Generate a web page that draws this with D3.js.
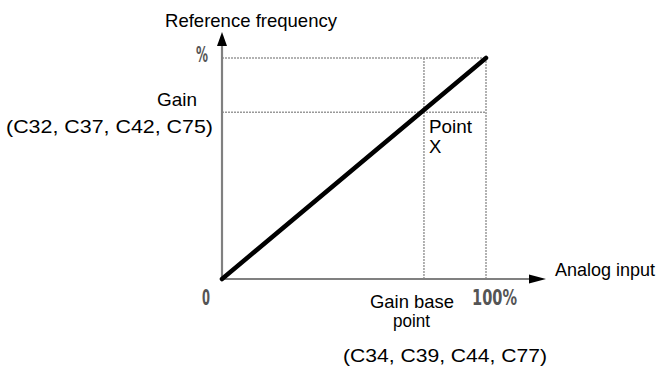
<!DOCTYPE html>
<html><head><meta charset="utf-8">
<script src="https://cdn.jsdelivr.net/npm/d3@7"></script>
<style>html,body{margin:0;padding:0;background:#fff;}</style>
</head><body>
<svg id="c" width="660" height="369"></svg>
<script>
// Data
const inputPct = [0, 100];        // analog input %
const freqPct = [0, 100];         // reference frequency %
const gainBasePoint = [76.5];     // x position of gain base point (%)
const gainLevel = [75.5];         // y position of gain (%)
const xTickLabels = ["0", "100%"];
const yTickLabels = ["%"];
const texts = {
  yTitle: "Reference frequency",
  xTitle: "Analog input",
  gain1: "Gain",
  gain2: "(C32, C37, C42, C75)",
  pointX1: "Point",
  pointX2: "X",
  base1: "Gain base",
  base2: "point",
  base3: "(C34, C39, C44, C77)"
};

const svg = d3.select("#c");
const x = d3.scaleLinear().domain([0, 100]).range([222, 486]);
const y = d3.scaleLinear().domain([0, 100]).range([279, 58]);
const font = "'Liberation Sans', Arial, sans-serif";
const nfont = "'Liberation Sans Narrow', 'DejaVu Sans Condensed', Arial, sans-serif";

// dotted guides
const guide = (x1, y1, x2, y2) => svg.append("line")
  .attr("x1", x1).attr("y1", y1).attr("x2", x2).attr("y2", y2)
  .attr("stroke", "#999").attr("stroke-width", 1.5).attr("stroke-dasharray", "2,1");
guide(x(0), y(100), x(100), y(100));
guide(x(100), y(100), x(100), y(0));
guide(x(0), y(gainLevel[0]), x(100), y(gainLevel[0]));
guide(x(gainBasePoint[0]), y(100), x(gainBasePoint[0]), y(0));

// axes
svg.append("line").attr("x1", x(0)).attr("y1", y(0)).attr("x2", x(0)).attr("y2", 44)
  .attr("stroke", "#808080").attr("stroke-width", 2.2);
svg.append("line").attr("x1", x(0)).attr("y1", y(0)).attr("x2", 531).attr("y2", y(0))
  .attr("stroke", "#808080").attr("stroke-width", 2.2);
svg.append("path").attr("d", `M${x(0)},32 L${x(0)-5},46 L${x(0)+5},46 Z`).attr("fill", "#000");
svg.append("path").attr("d", `M546,${y(0)} L529,${y(0)-4.5} L529,${y(0)+4.5} Z`).attr("fill", "#000");

// main line
const line = d3.line().x((d, i) => x(inputPct[i])).y((d, i) => y(freqPct[i]));
svg.append("path").datum(inputPct).attr("d", line)
  .attr("stroke", "#000").attr("stroke-width", 4.5).attr("fill", "none").attr("stroke-linecap", "round");

// text helper
function txt(s, xx, yy, opts = {}) {
  const t = svg.append("text").attr("x", xx).attr("y", yy).text(s)
    .attr("font-family", opts.family || font)
    .attr("font-size", opts.size || 18.5)
    .attr("fill", opts.fill || "#000")
    .attr("text-anchor", opts.anchor || "start");
  if (opts.weight) t.attr("font-weight", opts.weight);
  if (opts.len) t.attr("textLength", opts.len).attr("lengthAdjust", "spacingAndGlyphs");
  return t;
}
txt(texts.yTitle, 165, 27, {len: 172});
txt(texts.gain1, 157, 106, {len: 40});
txt(texts.gain2, 6, 133, {len: 207});
txt(texts.pointX1, 429, 133, {len: 43});
txt(texts.pointX2, 429, 153);
txt(texts.xTitle, 555, 276, {len: 100});
txt(texts.base1, 370, 308, {len: 84});
txt(texts.base2, 393, 327, {len: 37});
txt(texts.base3, 343, 362, {len: 204});

// tick labels
txt(yTickLabels[0], 196, 62, {family: nfont, size: 21, weight: "bold", fill: "#555", len: 12});
txt(xTickLabels[0], 202, 305, {family: nfont, size: 22, weight: "bold", fill: "#555", len: 8});
txt(xTickLabels[1], 472, 305, {family: nfont, size: 22, weight: "bold", fill: "#555", len: 45});
</script>
</body></html>
